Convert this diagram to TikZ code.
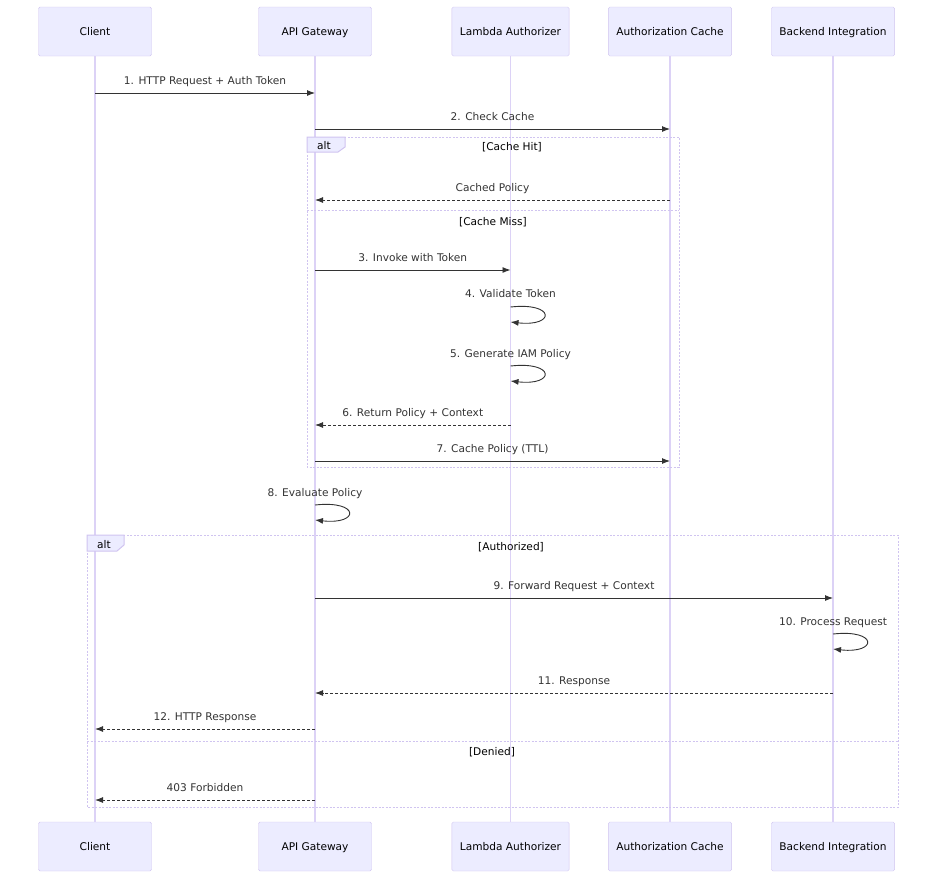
\documentclass[tikz,border=0pt]{standalone}
\usepackage{fontspec}
\setmainfont{DejaVu Sans}
\usetikzlibrary{arrows.meta}
\definecolor{actorfill}{RGB}{236,236,255}
\definecolor{actorline}{RGB}{208,196,240}
\definecolor{lifecol}{RGB}{220,210,246}
\definecolor{msgcol}{RGB}{51,51,51}
\begin{document}
\begin{tikzpicture}[
    x=1pt, y=-1pt,
    >={Latex[length=8pt,width=6pt]},
    font=\fontsize{10.6}{12}\selectfont,
    every node/.style={text height=7.7pt, text depth=0pt},
    actor/.style={
        draw=actorline,
        fill=actorfill,
        rectangle,
        rounded corners=1.5pt,
        minimum width=113pt,
        minimum height=49pt,
        inner xsep=8pt,
        text=black
    },
    lifeline/.style={draw=lifecol, line width=1.2pt},
    msg/.style={->, draw=msgcol, line width=0.9pt},
    reply/.style={msg, dash pattern=on 3pt off 2pt},
    lbl/.style={midway, yshift=12.5pt, text=msgcol},
    frame/.style={draw=actorline, line width=1pt, dash pattern=on 2pt off 1.5pt},
    tab/.style={draw=actorline, fill=actorfill, line width=1pt},
    cond/.style={text=black}
]
\useasboundingbox (0,0) rectangle (936,892);

% participants
\node[actor] (client) at (95,31.5) {Client};
\node[actor] (api) at (315,31.5) {API Gateway};
\node[actor] (lambda) at (510.5,31.5) {Lambda Authorizer};
\node[actor] (cache) at (670,31.5) {Authorization Cache};
\node[actor] (backend) at (833,31.5) {Backend Integration};

\node[actor] (clientB) at (95,846.5) {Client};
\node[actor] (apiB) at (315,846.5) {API Gateway};
\node[actor] (lambdaB) at (510.5,846.5) {Lambda Authorizer};
\node[actor] (cacheB) at (670,846.5) {Authorization Cache};
\node[actor] (backendB) at (833,846.5) {Backend Integration};

\draw[lifeline] (client.south) -- (clientB.north);
\draw[lifeline] (api.south) -- (apiB.north);
\draw[lifeline] (lambda.south) -- (lambdaB.north);
\draw[lifeline] (cache.south) -- (cacheB.north);
\draw[lifeline] (backend.south) -- (backendB.north);

% first alt frame
\draw[frame] (307,137) rectangle (679,467);
\draw[frame] (307,210) -- (679,210);
\draw[tab] (307,137) -- (345,137) -- (345,147) -- (338,152) -- (307,152) -- cycle;
\node[cond] (alt1) at (324,146) {alt};
\node[cond] (hit) at (512,146.5) {[Cache Hit]};
\node[cond] (miss) at (493,221.5) {[Cache Miss]};

% second alt frame
\draw[frame] (87,535) rectangle (898,807);
\draw[frame] (87,741) -- (898,741);
\draw[tab] (87,535) -- (124,535) -- (124,545) -- (117,551) -- (87,551) -- cycle;
\node[cond] (alt2) at (104,545) {alt};
\node[cond] (authd) at (511,546.5) {[Authorized]};
\node[cond] (denied) at (492,751.5) {[Denied]};

% messages
\draw[msg] (client |- 0,93) -- (api |- 0,93) node[lbl] {1. HTTP Request + Auth Token};
\draw[msg] (api |- 0,129) -- (cache |- 0,129) node[lbl] {2. Check Cache};
\draw[reply] (cache |- 0,200) -- (api |- 0,200) node[lbl] {Cached Policy};
\draw[msg] (api |- 0,270) -- (lambda |- 0,270) node[lbl] {3. Invoke with Token};

\node[text=msgcol] (validate) at (lambda |- 0,293.5) {4. Validate Token};
\draw[msg] (lambda |- 0,307) .. controls +(45,-5) and +(45,5) .. (lambda |- 0,322);
\node[text=msgcol] (generate) at (lambda |- 0,353.5) {5. Generate IAM Policy};
\draw[msg] (lambda |- 0,366) .. controls +(45,-5) and +(45,5) .. (lambda |- 0,381);

\draw[reply] (lambda |- 0,425) -- (api |- 0,425) node[lbl] {6. Return Policy + Context};
\draw[msg] (api |- 0,461) -- (cache |- 0,461) node[lbl] {7. Cache Policy (TTL)};

\node[text=msgcol] (evaluate) at (api |- 0,492.5) {8. Evaluate Policy};
\draw[msg] (api |- 0,505) .. controls +(45,-5) and +(45,5) .. (api |- 0,520);

\draw[msg] (api |- 0,598) -- (backend |- 0,598) node[lbl] {9. Forward Request + Context};
\node[text=msgcol] (process) at (backend |- 0,621.5) {10. Process Request};
\draw[msg] (backend |- 0,634) .. controls +(45,-5) and +(45,5) .. (backend |- 0,649);
\draw[reply] (backend |- 0,693) -- (api |- 0,693) node[lbl] {11. Response};
\draw[reply] (api |- 0,729) -- (client |- 0,729) node[lbl] {12. HTTP Response};
\draw[reply] (api |- 0,800) -- (client |- 0,800) node[lbl] {403 Forbidden};
\end{tikzpicture}
\end{document}
